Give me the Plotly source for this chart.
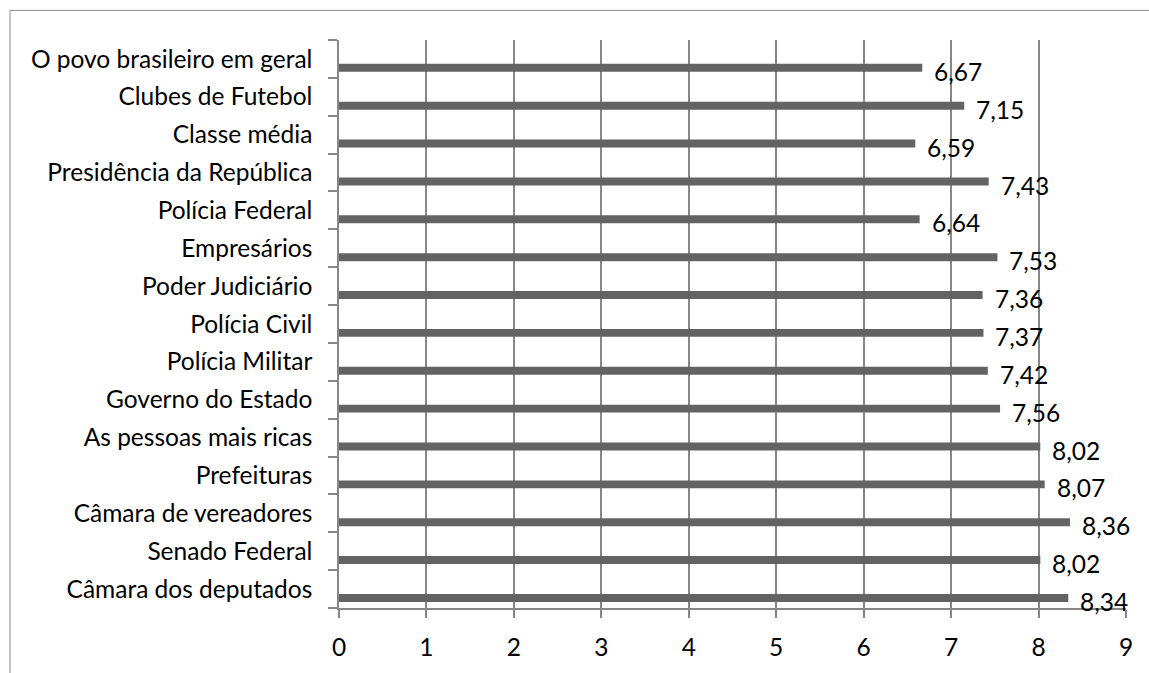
import plotly.graph_objects as go

categories = [
    "O povo brasileiro em geral",
    "Clubes de Futebol",
    "Classe média",
    "Presidência da República",
    "Polícia Federal",
    "Empresários",
    "Poder Judiciário",
    "Polícia Civil",
    "Polícia Militar",
    "Governo do Estado",
    "As pessoas mais ricas",
    "Prefeituras",
    "Câmara de vereadores",
    "Senado Federal",
    "Câmara dos deputados",
]
values = [6.67, 7.15, 6.59, 7.43, 6.64, 7.53, 7.36, 7.37, 7.42, 7.56,
          8.02, 8.07, 8.36, 8.02, 8.34]
x_ticks = [0, 1, 2, 3, 4, 5, 6, 7, 8, 9]

# bottom-to-top order for plotting
cats = categories[::-1]
vals = values[::-1]

FONT = "Lato"
FS = 24.5
GRAY = "#878787"
BAR = "#636363"

fig = go.Figure()
fig.add_trace(go.Bar(
    x=vals, y=cats, orientation="h",
    width=0.21, offset=-0.34,
    marker=dict(color=BAR, line=dict(width=0)),
    hoverinfo="x+y",
))

annotations = []
for i, v in enumerate(vals):
    annotations.append(dict(
        x=v, y=i - 0.33, xref="x", yref="y",
        text=f"{v:.2f}".replace(".", ","),
        showarrow=False, xanchor="left", yanchor="middle",
        xshift=10,
        font=dict(family=FONT, size=FS, color="#000000"),
    ))

L, R, T, B = 339, 23, 40, 58
W, H = 1149, 673
pw = W - L - R
ph = H - T - B

def px_x(px):
    return (px - L) / pw

def px_y(py):
    return (H - B - py) / ph

fig.update_layout(
    width=W, height=H,
    margin=dict(l=L, r=R, t=T, b=B),
    paper_bgcolor="white", plot_bgcolor="white",
    showlegend=False,
    font=dict(family=FONT, size=FS, color="#000000"),
    annotations=annotations,
    shapes=[dict(
        type="rect", xref="paper", yref="paper",
        x0=px_x(10), x1=px_x(1170), y0=px_y(700), y1=px_y(10),
        line=dict(color="#8c8c8c", width=1), fillcolor="rgba(0,0,0,0)",
        layer="below",
    )],
    xaxis=dict(
        range=[0, 9], tickmode="array", tickvals=x_ticks,
        ticktext=[str(t) for t in x_ticks],
        showgrid=True, gridcolor=GRAY, gridwidth=1.5,
        showline=True, linecolor=GRAY, linewidth=1.5,
        ticks="outside", ticklen=8, tickcolor=GRAY, tickwidth=1.5,
        zeroline=False, ticklabelstandoff=9,
        tickfont=dict(family=FONT, size=FS, color="#000000"),
    ),
    yaxis=dict(
        type="category", categoryorder="array", categoryarray=cats,
        range=[-0.5, len(cats) - 0.5],
        tickson="boundaries", ticks="outside", ticklen=9,
        tickcolor=GRAY, tickwidth=1.5,
        showline=True, linecolor=GRAY, linewidth=1.5,
        showgrid=False, zeroline=False, ticklabelstandoff=20,
        tickfont=dict(family=FONT, size=FS, color="#000000"),
    ),
)

fig.write_html("out.html")
